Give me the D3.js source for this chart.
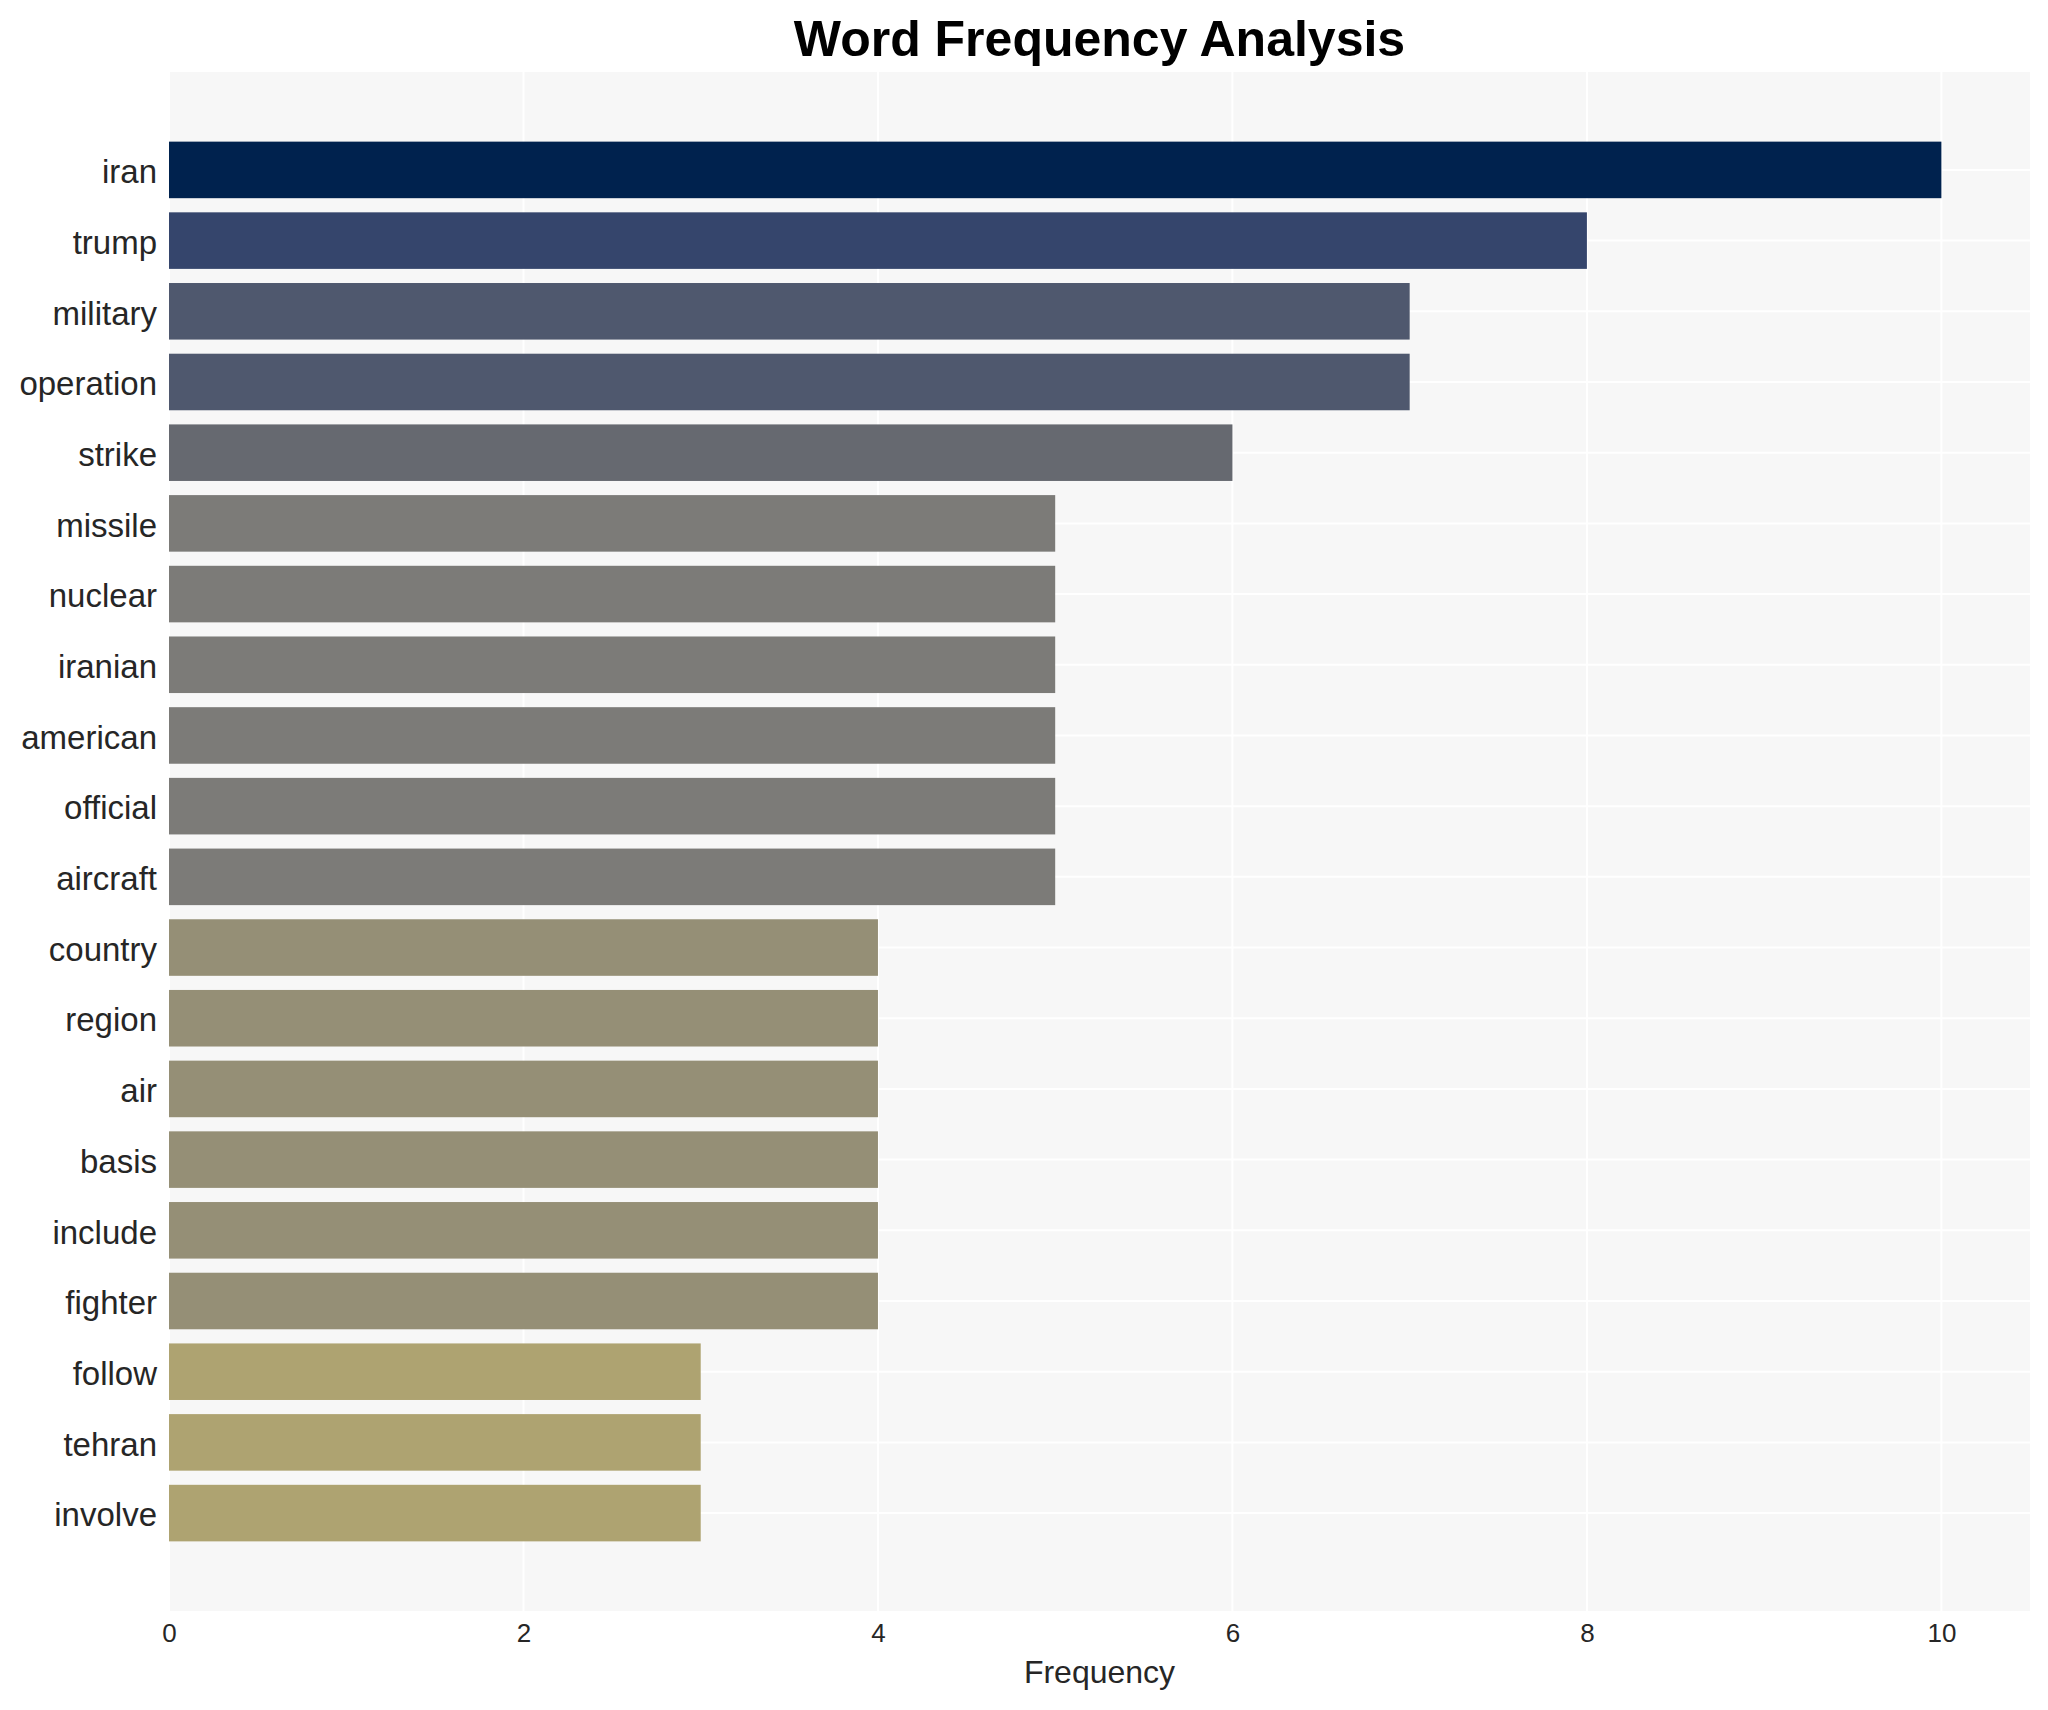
<!DOCTYPE html>
<html>
<head>
<meta charset="utf-8">
<script src="https://cdn.jsdelivr.net/npm/d3@7"></script>
<style>
  html, body { margin: 0; padding: 0; background: #ffffff; }
  svg { display: block; }
</style>
</head>
<body>
<svg id="chart" width="2048" height="1710"></svg>
<script>
const words = ["iran","trump","military","operation","strike","missile","nuclear","iranian","american","official","aircraft","country","region","air","basis","include","fighter","follow","tehran","involve"];
const counts = [10,8,7,7,6,5,5,5,5,5,5,4,4,4,4,4,4,3,3,3];
const xTicks = [0,2,4,6,8,10];
const colorValues = [10,8,7,6,5,4,3];
const colorHex = ["#00224e","#35456c","#4f586e","#666970","#7c7b78","#958f76","#aea371"];
const titleText = "Word Frequency Analysis";
const xLabel = "Frequency";

const W = 2048, H = 1710;
const m = { left: 169, right: 18, top: 72, bottom: 99 };
const svg = d3.select("#chart");
const plotW = W - m.left - m.right;
const plotH = H - m.top - m.bottom;

const x = d3.scaleLinear().domain([0, 10.5]).range([m.left, m.left + plotW]);
const y = d3.scaleBand().domain(words).range([m.top, m.top + plotH]).paddingInner(0.2).paddingOuter(0.985);
const color = d3.scaleOrdinal().domain(colorValues).range(colorHex);

const data = words.map((w, i) => ({ word: w, count: counts[i] }));

// background
svg.append("rect")
  .attr("x", m.left).attr("y", m.top)
  .attr("width", plotW).attr("height", plotH)
  .attr("fill", "#f7f7f7");

// grid
const grid = svg.append("g");
grid.selectAll("line.v").data(xTicks).enter().append("line")
  .attr("x1", d => x(d)).attr("x2", d => x(d))
  .attr("y1", m.top).attr("y2", m.top + plotH)
  .attr("stroke", "#ffffff").attr("stroke-width", 2);
grid.selectAll("line.h").data(words).enter().append("line")
  .attr("x1", m.left).attr("x2", m.left + plotW)
  .attr("y1", d => y(d) + y.bandwidth() / 2).attr("y2", d => y(d) + y.bandwidth() / 2)
  .attr("stroke", "#ffffff").attr("stroke-width", 2);

// bars
svg.append("g").selectAll("rect").data(data).enter().append("rect")
  .attr("x", x(0))
  .attr("y", d => y(d.word))
  .attr("width", d => x(d.count) - x(0))
  .attr("height", y.bandwidth())
  .attr("fill", d => color(d.count));

// x axis
const xAxis = svg.append("g")
  .attr("transform", `translate(0,${m.top + plotH})`)
  .call(d3.axisBottom(x).tickValues(xTicks).tickFormat(d3.format("d")).tickSize(0).tickPadding(0));
xAxis.select(".domain").remove();
xAxis.selectAll("text")
  .attr("y", 31).attr("dy", 0)
  .style("font-family", "'Liberation Sans', Arial, sans-serif")
  .style("font-size", "26px")
  .attr("fill", "#262626");

// y axis
const yAxis = svg.append("g")
  .attr("transform", `translate(${m.left},0)`)
  .call(d3.axisLeft(y).tickSize(0).tickPadding(12));
yAxis.select(".domain").remove();
yAxis.selectAll("text")
  .attr("dy", "0.4em")
  .style("font-family", "'Liberation Sans', Arial, sans-serif")
  .style("font-size", "33px")
  .attr("fill", "#262626");

// title
svg.append("text")
  .attr("x", m.left + plotW / 2).attr("y", 56)
  .attr("text-anchor", "middle")
  .style("font-family", "'Liberation Sans', Arial, sans-serif")
  .style("font-size", "50px").style("font-weight", "bold")
  .attr("fill", "#000000")
  .text(titleText);

// x label
svg.append("text")
  .attr("x", m.left + plotW / 2).attr("y", 1683)
  .attr("text-anchor", "middle")
  .style("font-family", "'Liberation Sans', Arial, sans-serif")
  .style("font-size", "32px")
  .attr("fill", "#262626")
  .text(xLabel);
</script>
</body>
</html>
